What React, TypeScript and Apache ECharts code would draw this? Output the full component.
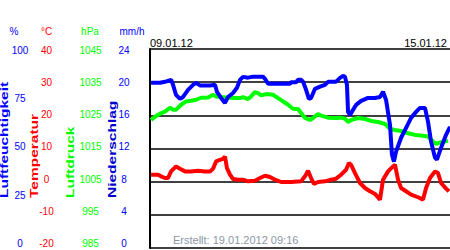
import React, { useEffect, useRef } from 'react';
import * as echarts from 'echarts';

// hours since 09.01.12 00:00
const humHours = [0.6, 5.6, 8.4, 11.8, 12.9, 14.6, 16.8, 18.5, 21.3, 24.1, 25.8, 28.0, 33.6, 36.4, 37.5, 39.8, 42.0, 43.7, 46.5, 48.7, 50.4, 52.1, 54.9, 57.7, 63.3, 64.4, 66.1, 67.8, 70.0, 78.4, 79.0, 81.8, 82.9, 84.6, 85.7, 87.4, 89.0, 90.2, 92.4, 95.2, 98.0, 99.7, 104.2, 106.4, 108.1, 109.2, 110.3, 110.9, 112.0, 113.7, 115.4, 118.2, 122.1, 126.0, 128.8, 130.5, 132.2, 134.4, 135.5, 136.6, 137.8, 140.6, 143.4, 146.2, 149.0, 151.2, 154.0, 155.7, 157.4, 159.6, 160.7, 163.0, 165.8, 168];
const humValues = [83.0, 83.0, 83.5, 84.5, 82.0, 76.9, 74.9, 75.9, 79.5, 82.0, 83.0, 81.7, 81.7, 82.0, 78.5, 75.4, 72.9, 75.9, 77.9, 80.5, 84.5, 86.0, 85.6, 86.1, 86.1, 85.0, 82.5, 82.5, 82.5, 82.5, 83.3, 83.3, 84.5, 84.5, 83.6, 79.5, 74.9, 75.4, 80.0, 81.1, 82.0, 83.5, 83.6, 85.5, 86.5, 86.0, 82.0, 68.4, 66.9, 69.4, 71.9, 73.9, 75.4, 75.4, 75.9, 78.5, 74.4, 61.9, 46.9, 43.4, 48.4, 55.4, 60.4, 65.4, 68.4, 70.4, 70.4, 63.4, 53.4, 45.4, 44.4, 50.4, 56.9, 60.9];

const tempHours = [0.6, 2.8, 4.5, 6.2, 8.4, 10.1, 11.8, 14.6, 16.8, 19.6, 23.0, 26.9, 30.8, 33.6, 35.3, 37.0, 39.2, 40.9, 42.0, 43.1, 44.8, 46.5, 49.3, 52.1, 54.9, 58.8, 61.6, 64.4, 67.2, 70.0, 73.4, 79.0, 84.6, 86.8, 88.5, 90.2, 91.8, 94.1, 98.0, 101.4, 104.2, 107.0, 109.8, 111.4, 112.6, 114.8, 117.6, 120.4, 123.2, 126.0, 128.8, 130.5, 133.3, 136.1, 137.2, 138.9, 140.6, 143.4, 146.2, 150.1, 152.9, 154.6, 156.8, 159.6, 161.3, 163.0, 165.8, 167.4];
const tempValues = [2.1, 2.1, 2.1, 1.6, 1.1, 1.1, 3.1, 4.6, 3.9, 3.1, 3.1, 3.3, 3.1, 3.1, 3.9, 6.1, 6.6, 6.9, 7.6, 4.1, 2.1, 0.8, 0.6, 0.6, 0.1, 0.3, 1.1, 1.8, 1.4, 0.6, -0.1, -0.1, 0.1, 1.6, 3.3, 1.1, -0.7, -0.1, 0.1, 0.6, 0.9, 2.1, 3.6, 5.6, 5.1, 2.6, -0.4, -1.9, -2.9, -3.7, -5.4, 0.6, 3.1, 4.6, 5.1, 0.6, -1.9, -2.9, -3.9, -4.7, -5.4, -1.9, 1.1, 3.1, 2.6, -0.4, -2.1, -2.9];

const presHours = [0.6, 2.8, 5.6, 8.4, 11.2, 12.9, 14.6, 17.4, 20.2, 23.0, 25.8, 28.6, 32.5, 35.3, 37.0, 39.2, 42.6, 47.6, 50.4, 52.1, 54.9, 56.6, 58.8, 60.5, 62.2, 65.0, 68.9, 71.7, 74.5, 77.3, 80.1, 82.9, 84.6, 86.8, 89.6, 91.3, 94.1, 95.8, 99.7, 103.6, 106.4, 109.2, 110.9, 112.6, 116.5, 120.4, 123.8, 127.7, 131.6, 134.4, 137.2, 140.6, 144.5, 148.4, 151.8, 155.7, 158.5, 160.2, 163.0, 166.9];
const presValues = [1023.6, 1024.6, 1025.5, 1026.1, 1027.3, 1026.7, 1026.7, 1028.2, 1029.2, 1029.4, 1029.7, 1030.3, 1030.4, 1031.2, 1030.7, 1030.5, 1030.4, 1030.2, 1030.2, 1030.5, 1029.9, 1030.7, 1032.0, 1031.7, 1031.0, 1031.4, 1031.2, 1030.2, 1029.2, 1028.2, 1027.0, 1026.9, 1025.7, 1024.2, 1023.6, 1024.2, 1025.4, 1024.9, 1024.3, 1024.2, 1024.3, 1024.0, 1023.0, 1023.6, 1024.2, 1023.9, 1023.3, 1023.0, 1022.4, 1020.9, 1020.6, 1020.3, 1019.6, 1019.1, 1018.9, 1018.6, 1017.1, 1016.4, 1016.9, 1017.3];

const startDate = '09.01.12';
const endDate = '15.01.12';
const createdText = 'Erstellt: 19.01.2012 09:16';

const FONT = '"Liberation Sans", Arial, sans-serif';
const BLUE = '#0000ff';
const RED = '#ff0000';
const GREEN = '#00ff00';

function labelCfg(min: number, max: number, interval: number, color: string, center: number) {
  const n = Math.round((max - min) / interval);
  const rich: Record<string, any> = {};
  for (let i = 0; i <= n; i++) {
    const s = 1 - 5.5 * (i / n);
    rich['l' + i] = {
      color,
      fontSize: 10,
      fontFamily: FONT,
      padding: s > 0 ? [2 * s, 0, 0, 0] : [0, 0, -2 * s, 0],
    };
  }
  return {
    show: true,
    color,
    fontSize: 10,
    fontFamily: FONT,
    align: 'center',
    margin: 150 - center,
    formatter: (v: number) => `{l${Math.round((max - v) / interval)}|${v}}`,
    rich,
  };
}

function yAx(min: number, max: number, interval: number, color: string, center: number, main = false) {
  return {
    type: 'value',
    position: 'left',
    offset: 0,
    min,
    max,
    interval,
    axisLine: { show: main, lineStyle: { color: '#000', width: 2 } },
    axisTick: { show: false },
    splitLine: { show: main, lineStyle: { color: '#000', width: 1.5 } },
    axisLabel: labelCfg(min, max, interval, color, center),
  };
}

function vTitle(text: string, x: number, color: string) {
  return {
    type: 'text',
    x,
    y: 198,
    rotation: Math.PI / 2,
    scaleX: 1.55,
    style: {
      text,
      fill: color,
      font: `bold 10px ${FONT}`,
      textAlign: 'left',
      textVerticalAlign: 'middle',
      align: 'left',
      verticalAlign: 'middle',
    },
  };
}

function hText(text: string, x: number, y: number, color: string, align: string, size = 10) {
  return {
    type: 'text',
    x,
    y,
    style: {
      text,
      fill: color,
      font: `${size}px ${FONT}`,
      textAlign: align,
      textVerticalAlign: 'middle',
      align,
      verticalAlign: 'middle',
    },
  };
}

const zip = (xs: number[], ys: number[]) => xs.map((x, i) => [x, ys[i]]);

export default function App() {
  const ref = useRef<HTMLDivElement>(null);
  useEffect(() => {
    if (!ref.current) return;
    const chart = echarts.init(ref.current, undefined, { renderer: 'svg' });
    chart.setOption({
      animation: false,
      backgroundColor: '#ffffff',
      grid: { left: 150, right: 0, top: 49, bottom: 2 },
      xAxis: { type: 'value', min: 0, max: 168, show: false },
      yAxis: [
        yAx(-20, 40, 10, RED, 46.5, true),
        yAx(0, 100, 25, BLUE, 20),
        yAx(985, 1045, 10, GREEN, 90.5),
        yAx(0, 24, 4, BLUE, 124),
      ],
      series: [
        {
          type: 'line', yAxisIndex: 2, data: zip(presHours, presValues), showSymbol: false,
          lineStyle: { color: GREEN, width: 4 }, itemStyle: { color: GREEN },
        },
        {
          type: 'line', yAxisIndex: 1, data: zip(humHours, humValues), showSymbol: false,
          lineStyle: { color: BLUE, width: 4 }, itemStyle: { color: BLUE },
        },
        {
          type: 'line', yAxisIndex: 0, data: zip(tempHours, tempValues), showSymbol: false,
          lineStyle: { color: RED, width: 4 }, itemStyle: { color: RED },
        },
      ],
      graphic: [
        hText('%', 14, 31, BLUE, 'center'),
        hText('°C', 46.5, 31, RED, 'center'),
        hText('hPa', 90, 31, GREEN, 'center'),
        hText('mm/h', 132, 31, BLUE, 'center'),
        vTitle('Luftfeuchtigkeit', 5, BLUE),
        vTitle('Temperatur', 35, RED),
        vTitle('Luftdruck', 71, GREEN),
        vTitle('Niederschlag', 113, '#0000cc'),
        hText(startDate, 150, 43, '#000', 'left', 11),
        hText(endDate, 447, 43, '#000', 'right', 11),
        hText(createdText, 173, 240, '#8a96a4', 'left', 11),
      ],
    });
    return () => chart.dispose();
  }, []);
  return (
    <div
      ref={ref}
      style={{ position: 'fixed', left: 0, top: 0, width: 450, height: 250 }}
    />
  );
}
